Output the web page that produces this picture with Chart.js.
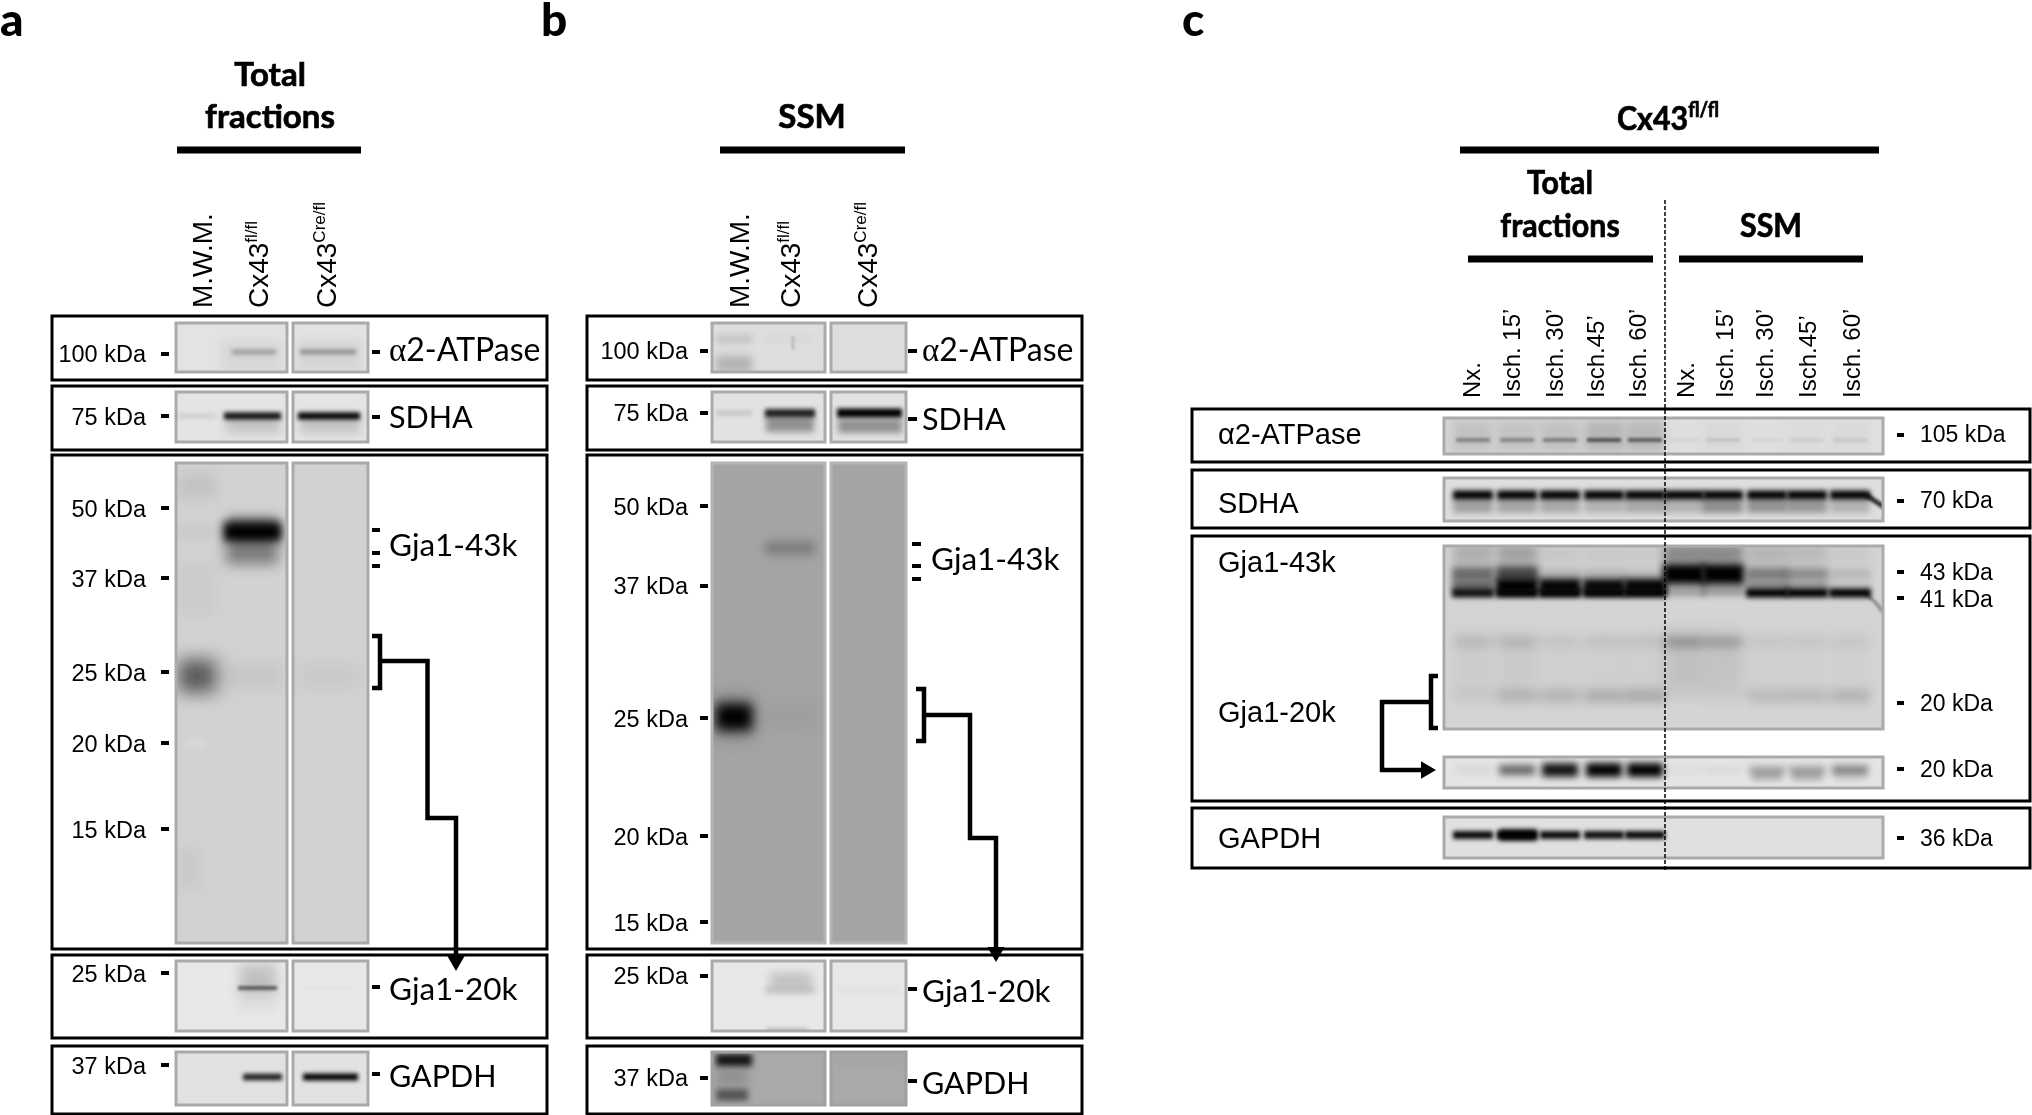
<!DOCTYPE html>
<html>
<head>
<meta charset="utf-8">
<title>Gja1-20k western blots</title>
<style>html,body{margin:0;background:#fff}canvas{display:block}</style>
<script src="https://cdn.jsdelivr.net/npm/chart.js@4"></script>
</head>
<body>
<canvas id="blots" width="2032" height="1115"></canvas>
<script>
// labels
const rowNames = ["2-ATPase", "SDHA", "Gja1-43k", "Gja1-20k", "GAPDH"];
const kDaA = ["100 kDa", "75 kDa", "50 kDa", "37 kDa", "25 kDa", "20 kDa", "15 kDa", "25 kDa", "37 kDa"];
const kDaC = ["105 kDa", "70 kDa", "43 kDa", "41 kDa", "20 kDa", "20 kDa", "36 kDa"];
const lanesC = ["Nx.", "Isch. 15’", "Isch. 30’", "Isch.45’", "Isch. 60’", "Nx.", "Isch. 15’", "Isch. 30’", "Isch.45’", "Isch. 60’"];

// band darkness per lane: M.W.M., Cx43 fl/fl, Cx43 Cre/fl
const atpaseA = [0, 0.3, 0.36];
const sdhaA = [0.1, 0.92, 1];
const gja43A = [0.04, 1, 0];
const gja25A = [0.58, 0.07, 0.05];
const gja20A = [0, 0.55, 0.02];
const gapdhA = [0, 0.88, 1];

const atpaseB = [0.12, 0.02, 0];
const sdhaB = [0.14, 0.85, 1];
const gja43B = [0, 0.22, 0];
const gja25B = [1, 0.03, 0];
const gja20B = [0, 0.18, 0.03];
const gapdhB = [0.9, 0, 0.02];

// panel c: Nx, 15, 30, 45, 60 for total fractions, then the same for SSM
const atpaseC = [0.38, 0.36, 0.4, 0.62, 0.56, 0.04, 0.13, 0.04, 0.08, 0.11];
const sdhaC = [1, 1, 1, 1, 1, 1, 1, 1, 1, 1];
const sdhaLowC = [0.28, 0.26, 0.24, 0.2, 0.24, 0.2, 0.36, 0.34, 0.32, 0.2];
const gja43C = [0.5, 0.66, 0.16, 0.15, 0.12, 1, 1, 0.42, 0.34, 0.14];
const gja42C = [0.5, 1, 0.98, 0.96, 0.98, 0.2, 0.25, 0.36, 0.3, 0.1];
const gja41C = [0.92, 1, 1, 1, 1, 0.2, 0.2, 1, 1, 1];
const smearC = [0.1, 0.12, 0.06, 0.07, 0.07, 0.26, 0.22, 0.05, 0.05, 0.05];
const gja20C = [0.05, 0.14, 0.14, 0.17, 0.19, 0.02, 0.03, 0.11, 0.12, 0.14];
const gja20HighC = [0.07, 0.55, 0.92, 1, 1, 0.03, 0.06, 0.28, 0.3, 0.42];
const gja20TailC = [0, 0, 0, 0, 0, 0, 0, 0.22, 0.22, 0.08];
const gapdhC = [0.95, 1, 0.95, 0.92, 0.95, 0, 0, 0, 0, 0];

// layout, in image pixels
const rowsAB = [[316, 380], [386, 450], [455, 949], [955, 1038], [1046, 1114]];
const blotRows = [[323, 372], [392, 442], [463, 943], [961, 1031], [1052, 1105]];
const rowsC = [[409, 462], [470, 528], [536, 801], [808, 868]];
const lanesAX = [[178, 216], [224, 281], [298, 360]];
const atpaseLanesAX = [[178, 216], [232, 276], [300, 356]];
const gja20LanesAX = [[178, 216], [238, 277], [300, 356]];
const gapdhLanesAX = [[178, 216], [243, 282], [303, 358]];
const lanesBX = [[716, 752], [765, 815], [837, 902]];
const lanesCX = [1473, 1517, 1560, 1604, 1645, 1684, 1723, 1767, 1807, 1850];

const datasets = [];
const texts = [];

const line = (points, width, color, extra) => {
  datasets.push({
    data: points.map(([x, y]) => ({ x, y })),
    showLine: true,
    pointRadius: 0,
    borderWidth: width,
    borderColor: color,
    ...extra,
  });
};
const box = (x0, y0, x1, y1, color, width) =>
  line([[x0, y0], [x1, y0], [x1, y1], [x0, y1], [x0, y0], [x1, y0]], width, color);
const area = (x0, y0, x1, y1, color) =>
  line([[x0, (y0 + y1) / 2], [x1, (y0 + y1) / 2]], y1 - y0, color);
const tick = (x0, x1, y) => line([[x0, y], [x1, y]], 4, "#000");
const arrowHead = (x, y, rotation) => {
  datasets.push({
    data: [{ x, y }],
    showLine: false,
    pointStyle: "triangle",
    pointRadius: 10,
    pointRotation: rotation,
    backgroundColor: "#000",
    borderColor: "#000",
    borderWidth: 0,
  });
};

const blot = (x0, y0, x1, y1, color) => {
  area(x0, y0, x1, y1, color);
  return [x0, y0, x1, y1];
};
const smudge = (region, x0, x1, y, thick, alpha, blur) => {
  if (alpha <= 0) return;
  line([[x0, y], [x1, y]], thick, `rgba(0,0,0,${alpha})`, { region, blur });
};

const SANS = '"Liberation Sans"';
const CAL = "Lato";
const run = (t, font, dy) => ({ t, font, dy: dy || 0 });
const label = (runs, x, y, extra) => texts.push({ runs, x, y, align: "left", rot: false, sx: 1, ...extra });
const heading = (t, x, y, sx) =>
  label([run(t, `bold 33px ${CAL}`)], x, y, { align: "center", sx: sx || 1, heavy: 0.7 });
const alphaName = (x, y) =>
  label([run("α", "33px 'Liberation Serif'"), run(rowNames[0], `32px ${CAL}`)], x, y);

/* ---------- panel a and b shared parts ---------- */
const sidePanel = (cfg) => {
  rowsAB.forEach(([y0, y1]) => box(cfg.frame[0], y0, cfg.frame[1], y1, "#000", 3));

  cfg.kDaY.forEach((y, i) => {
    tick(cfg.leftTick[0], cfg.leftTick[1], y);
    label([run(kDaA[i], `23.5px ${SANS}`)], cfg.kDaRight, cfg.kDaBase[i], { align: "right" });
  });
  cfg.nameTicks.forEach((y) => tick(cfg.rightTick[0], cfg.rightTick[1], y));
};

/* ---------- panel a ---------- */
sidePanel({
  frame: [52, 547],
  kDaY: [354, 416, 508, 578, 672, 743, 829, 973, 1065],
  kDaBase: [362, 425, 517, 587, 681, 752, 838, 982, 1074],
  kDaRight: 146,
  leftTick: [161, 169],
  rightTick: [372, 380],
  nameTicks: [352, 417, 987, 1074],
});
[530, 553, 566].forEach((y) => tick(372, 380, y));

const blotsA = (i, color) => [
  blot(176, blotRows[i][0], 287, blotRows[i][1], color),
  blot(293, blotRows[i][0], 368, blotRows[i][1], color),
];
const inA = (values, y, thick, grow, blur, regions, lanes) =>
  values.forEach((v, i) => {
    const [x0, x1] = (lanes || lanesAX)[i];
    smudge(regions[i === 2 ? 1 : 0], x0, x1, y, thick + grow * v, v, blur);
  });

let regs = blotsA(0, "#e3e3e3");
smudge(regs[0], 222, 282, 356, 32, 0.05, 5);
smudge(regs[1], 298, 362, 356, 32, 0.06, 5);
inA(atpaseA, 352, 4, 1, 2, regs, atpaseLanesAX);

regs = blotsA(1, "#e4e4e4");
smudge(regs[0], 226, 280, 424, 18, 0.14, 5);
smudge(regs[1], 300, 360, 424, 18, 0.14, 5);
inA(sdhaA, 416, 4, 3, 2, regs);

regs = blotsA(2, "#d2d2d2");
smudge(regs[0], 178, 216, 486, 24, 0.07, 7);
smudge(regs[0], 178, 214, 590, 50, 0.03, 6);
smudge(regs[0], 176, 200, 869, 40, 0.04, 7);
smudge(regs[0], 226, 278, 542, 44, 0.42, 7);
smudge(regs[0], 228, 278, 524, 14, 0.25, 5);
inA(gja43A, 532, 12, 6, 4, regs);
inA(gja25A, 676, 18, 26, 9, regs);
line([[186, 743], [204, 743]], 6, "rgba(255,255,255,0.22)", { region: regs[0], blur: 3 });

regs = blotsA(3, "#e8e8e8");
smudge(regs[0], 240, 276, 978, 28, 0.16, 6);
smudge(regs[0], 238, 276, 998, 24, 0.05, 6);
inA(gja20A, 988, 3, 2, 1.5, regs, gja20LanesAX);

regs = blotsA(4, "#e2e2e2");
inA(gapdhA, 1077, 4, 3, 2, regs, gapdhLanesAX);

blotRows.forEach(([y0, y1]) => {
  box(176, y0, 287, y1, "#aaa", 3);
  box(293, y0, 368, y1, "#aaa", 3);
});

line([[372, 636], [380, 636], [380, 688], [372, 688]], 4.5, "#000");
line([[380, 661], [427.5, 661], [427.5, 818], [456, 818], [456, 962]], 4.5, "#000");
arrowHead(456, 961, 180);

/* ---------- panel b ---------- */
sidePanel({
  frame: [587, 1082],
  kDaY: [351, 413, 506, 586, 718, 836, 922, 976, 1078],
  kDaBase: [359, 421, 515, 594, 727, 845, 931, 984, 1086],
  kDaRight: 688,
  leftTick: [700, 708],
  rightTick: [908, 917],
  nameTicks: [351, 419, 989, 1081],
});
[544, 566, 579].forEach((y) => tick(912, 921, y));

const blotsB = (i, color) => [
  blot(712, blotRows[i][0], 825, blotRows[i][1], color),
  blot(831, blotRows[i][0], 906, blotRows[i][1], color),
];
const inB = (values, y, thick, grow, blur, regions) =>
  values.forEach((v, i) => {
    const [x0, x1] = lanesBX[i];
    smudge(regions[i === 2 ? 1 : 0], x0, x1, y, thick + grow * v, v, blur);
  });

regs = blotsB(0, "#dedede");
inB(atpaseB, 339, 8, 0, 3, regs);
smudge(regs[0], 716, 752, 364, 16, 0.2, 4);
line([[793, 336], [793, 350]], 3, "rgba(0,0,0,0.14)", { region: regs[0], blur: 1 });

regs = blotsB(1, "#e2e2e2");
smudge(regs[0], 766, 814, 424, 16, 0.36, 3);
smudge(regs[1], 838, 902, 426, 14, 0.36, 3);
inB(sdhaB, 413, 4, 5, 2, regs);

regs = blotsB(2, "#a4a4a4");
inB(gja43B, 548, 14, 0, 4, regs);
inB(gja25B, 717, 26, 0, 6, regs);
smudge(regs[0], 714, 752, 717, 40, 0.25, 9);

regs = blotsB(3, "#e8e8e8");
smudge(regs[0], 770, 812, 980, 14, 0.17, 5);
inB(gja20B, 990, 6, 0, 3, regs);
smudge(regs[0], 766, 808, 1030, 4, 0.2, 2);

regs = blotsB(4, "#a9a9a9");
inB(gapdhB, 1060, 12, 0, 3, regs);
smudge(regs[0], 716, 748, 1077, 14, 0.15, 4);
smudge(regs[0], 716, 748, 1095, 12, 0.5, 3);

blotRows.forEach(([y0, y1], i) => {
  const color = i === 2 ? "#b4b4b4" : i === 4 ? "#a0a0a0" : "#aaa";
  box(712, y0, 825, y1, color, 3);
  box(831, y0, 906, y1, color, 3);
});

line([[916, 689], [924, 689], [924, 741], [916, 741]], 4.5, "#000");
line([[924, 715], [970, 715], [970, 838], [996, 838], [996, 950]], 4.5, "#000");
arrowHead(996, 952, 180);

/* ---------- panel c ---------- */
rowsC.forEach(([y0, y1]) => box(1192, y0, 2030, y1, "#000", 3));
[435, 501, 572, 598, 703, 769, 838].forEach((y) => tick(1897, 1904, y));

const inC = (region, values, y, half, thick, grow, blur) =>
  values.forEach((v, i) => {
    const c = lanesCX[i];
    smudge(region, c - half, c + half, y, thick + grow * v, v, blur);
  });

const C1 = blot(1444, 418, 1883, 454, "#e0e0e0");
smudge(C1, 1444, 1665, 436, 36, 0.05, 0);
inC(C1, atpaseC, 440, 17, 3, 1, 1.5);
inC(C1, atpaseC.map((v) => v * 0.22), 436, 19, 30, 0, 4);

const C2 = blot(1444, 478, 1883, 521, "#dedede");
inC(C2, sdhaLowC, 506, 20, 14, 0, 3);
inC(C2, sdhaC, 495, 20, 9, 0, 2.5);
line([[1866, 495], [1878, 503], [1884, 507]], 5, "rgba(0,0,0,0.8)", { region: C2, blur: 1.5 });

const C3 = blot(1444, 546, 1883, 729, "#d4d4d4");
inC(C3, gja43C.map((v) => v * 0.35), 554, 20, 20, 0, 5);
inC(C3, smearC, 642, 19, 10, 0, 5);
inC(C3, smearC.map((v) => v * 0.35), 660, 19, 60, 0, 7);
inC(C3, gja20C, 696, 20, 14, 0, 5);
inC(C3, gja43C, 574, 21, 8, 12, 3.5);
inC(C3, gja42C, 586, 21, 6, 9, 3);
inC(C3, gja41C, 593, 21, 8, 1, 2.5);
line([[1866, 594], [1876, 603], [1883, 612]], 3, "rgba(0,0,0,0.4)", { region: C3, blur: 1.5 });

const C4 = blot(1444, 757, 1883, 788, "#e4e4e4");
inC(C4, gja20TailC, 776, 15, 9, 0, 3);
inC(C4, gja20HighC, 770, 18, 5, 9, 3.5);

const C5 = blot(1444, 817, 1883, 858, "#e0e0e0");
inC(C5, gapdhC, 835, 20, 5, 3, 2);
smudge(C5, 1499, 1537, 835, 11, 0.9, 2.5);

[[418, 454], [478, 521], [546, 729], [757, 788], [817, 858]].forEach(([y0, y1]) =>
  box(1444, y0, 1883, y1, "#aaa", 3)
);

line([[1438, 676], [1431, 676], [1431, 728], [1438, 728]], 4.5, "#000");
line([[1431, 702], [1382, 702], [1382, 770], [1424, 770]], 4.5, "#000");
arrowHead(1426, 770, 90);

line([[1665, 200], [1665, 872]], 1.5, "#000", { borderDash: [4, 2] });

// top bars of the three panels
[[177, 361, 150], [720, 905, 150], [1460, 1879, 150], [1468, 1653, 259], [1679, 1863, 259]].forEach(
  ([x0, x1, y]) => line([[x0, y], [x1, y]], 7, "#000")
);

/* ---------- text ---------- */
label([run("a", `900 46px ${CAL}`)], 0, 36);
label([run("b", `900 46px ${CAL}`)], 541, 36);
label([run("c", `900 46px ${CAL}`)], 1182, 36);

heading("Total", 270, 86);
heading("fractions", 270, 128);
heading("SSM", 812, 128);
heading("Total", 1560, 194, 0.92);
heading("fractions", 1560, 237, 0.92);
heading("SSM", 1771, 237, 0.92);
label(
  [run("Cx43", `bold 33px ${CAL}`), run("fl/fl", `bold 20px ${CAL}`, -13)],
  1668, 130, { align: "center", sx: 0.92, heavy: 0.7 }
);

const upright = (name, sup, x, y) =>
  label([run(name, `28px ${SANS}`), ...(sup ? [run(sup, `17px ${SANS}`, -11)] : [])], x, y, { rot: true });
upright("M.W.M.", "", 212, 308);
upright("Cx43", "fl/fl", 268, 308);
upright("Cx43", "Cre/fl", 336, 308);
upright("M.W.M.", "", 749, 308);
upright("Cx43", "fl/fl", 800, 308);
upright("Cx43", "Cre/fl", 877, 308);

[1480, 1520, 1563, 1604, 1646, 1694, 1733, 1773, 1816, 1860].forEach((x, i) =>
  label([run(lanesC[i], `24px ${SANS}`)], x, 398, { rot: true })
);

alphaName(389, 361);
label([run(rowNames[1], `30.5px ${CAL}`)], 389, 428);
label([run(rowNames[2], `31.5px ${CAL}`)], 389, 556);
label([run(rowNames[3], `31.5px ${CAL}`)], 389, 1000);
label([run(rowNames[4], `30.5px ${CAL}`)], 389, 1087);

alphaName(922, 361);
label([run(rowNames[1], `30.5px ${CAL}`)], 922, 430);
label([run(rowNames[2], `31.5px ${CAL}`)], 931, 570);
label([run(rowNames[3], `31.5px ${CAL}`)], 922, 1002);
label([run(rowNames[4], `30.5px ${CAL}`)], 922, 1094);

label([run("α" + rowNames[0], `29px ${SANS}`)], 1218, 444);
label([run(rowNames[1], `29px ${SANS}`)], 1218, 513);
label([run(rowNames[2], `29px ${SANS}`)], 1218, 572);
label([run(rowNames[3], `29px ${SANS}`)], 1218, 722);
label([run(rowNames[4], `29px ${SANS}`)], 1218, 848);

[442, 508, 580, 607, 711, 777, 846].forEach((y, i) =>
  label([run(kDaC[i], `23px ${SANS}`)], 1920, y)
);

// lets a dataset stay inside its blot and go soft at the edges
const blotPlugin = {
  id: "blotPlugin",
  beforeDatasetDraw(chart, { index }) {
    const d = chart.data.datasets[index];
    if (!d.region && !d.blur) return;
    const { ctx, scales } = chart;
    ctx.save();
    if (d.region) {
      const [x0, y0, x1, y1] = d.region;
      const left = scales.x.getPixelForValue(x0);
      const top = scales.y.getPixelForValue(y0);
      ctx.beginPath();
      ctx.rect(left, top, scales.x.getPixelForValue(x1) - left, scales.y.getPixelForValue(y1) - top);
      ctx.clip();
    }
    if (d.blur) ctx.filter = `blur(${d.blur}px)`;
  },
  afterDatasetDraw(chart, { index }) {
    const d = chart.data.datasets[index];
    if (d.region || d.blur) chart.ctx.restore();
  },
};

const textPlugin = {
  id: "textPlugin",
  afterDatasetsDraw(chart) {
    const { ctx, scales } = chart;
    ctx.save();
    ctx.fillStyle = "#000";
    ctx.strokeStyle = "#000";
    ctx.textBaseline = "alphabetic";
    ctx.textAlign = "left";
    texts.forEach(({ runs, x, y, align, rot, sx, heavy }) => {
      let total = 0;
      runs.forEach((r) => {
        ctx.font = r.font;
        r.w = ctx.measureText(r.t).width;
        total += r.w;
      });
      ctx.save();
      ctx.translate(scales.x.getPixelForValue(x), scales.y.getPixelForValue(y));
      if (rot) ctx.rotate(-Math.PI / 2);
      ctx.scale(sx, 1);
      let pen = align === "center" ? -total / 2 : align === "right" ? -total : 0;
      runs.forEach((r) => {
        ctx.font = r.font;
        ctx.fillText(r.t, pen, r.dy);
        if (heavy) {
          ctx.lineWidth = heavy;
          ctx.strokeText(r.t, pen, r.dy);
        }
        pen += r.w;
      });
      ctx.restore();
    });
    ctx.restore();
  },
};

// chart.js paints the first dataset last, so flip to keep drawing order
new Chart(document.getElementById("blots"), {
  type: "scatter",
  data: { datasets: datasets.reverse() },
  options: {
    responsive: false,
    devicePixelRatio: 1,
    animation: false,
    layout: { padding: 0, autoPadding: false },
    plugins: { legend: { display: false }, title: { display: false }, tooltip: { enabled: false } },
    scales: {
      x: { type: "linear", min: 0, max: 2032, display: false },
      y: { type: "linear", min: 0, max: 1115, reverse: true, display: false },
    },
  },
  plugins: [blotPlugin, textPlugin],
});
</script>
</body>
</html>
